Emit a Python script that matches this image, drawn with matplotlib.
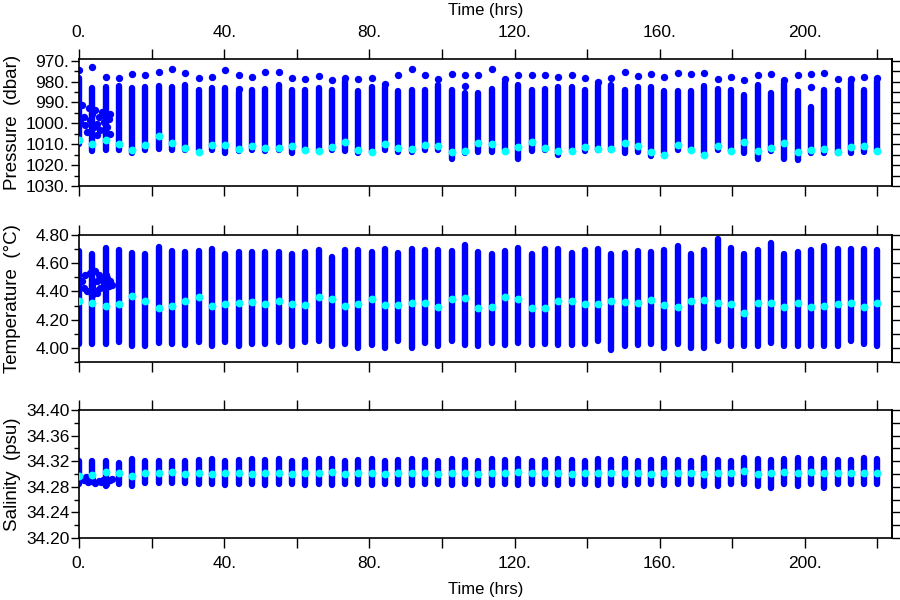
import matplotlib
matplotlib.use("Agg")
import matplotlib.pyplot as plt
from matplotlib.ticker import MultipleLocator, FixedLocator

plt.rcParams['font.family'] = ['Liberation Sans', 'DejaVu Sans']

# profile times (hrs)
times = [0.0, 3.7, 7.3, 11.0, 14.7, 18.3, 22.0, 25.7, 29.3, 33.0, 36.7, 40.3, 44.0, 47.7, 51.3,
         55.0, 58.7, 62.3, 66.0, 69.7, 73.3, 77.0, 80.7, 84.3, 88.0, 91.7, 95.3, 99.0, 102.7, 106.3,
         110.0, 113.7, 117.3, 121.0, 124.7, 128.3, 132.0, 135.7, 139.3, 143.0, 146.7, 150.3, 154.0,
         157.7, 161.3, 165.0, 168.7, 172.3, 176.0, 179.7, 183.3, 187.0, 190.7, 194.3, 198.0, 201.7,
         205.3, 209.0, 212.7, 216.3, 220.0]

# pressure (dbar)
p_dot = [974.7, 973.2, 977.7, 978.1, 976.5, 977.1, 975.5, 973.9, 976.0, 978.1, 977.6, 974.7, 977.1,
         977.7, 975.2, 975.2, 978.4, 978.7, 977.2, 979.2, 978.4, 978.7, 978.4, 981.3, 976.8, 973.9,
         976.8, 978.7, 976.3, 977.1, 977.1, 973.9, 978.7, 976.8, 977.1, 977.1, 977.6, 977.1, 978.1,
         980.0, 978.1, 975.2, 977.3, 976.5, 977.6, 976.0, 976.5, 976.0, 978.7, 977.7, 979.2, 977.1,
         976.5, 979.2, 977.1, 976.5, 976.0, 978.7, 978.7, 977.6, 978.4]
p_top = [978.3, 983.1, 982.8, 982.3, 983.1, 982.8, 982.3, 982.8, 981.5, 983.9, 983.1, 983.1, 985.0,
         983.9, 983.4, 981.5, 983.9, 983.9, 983.1, 983.9, 979.9, 984.7, 982.8, 982.8, 984.7, 983.9,
         983.9, 981.5, 983.9, 985.5, 985.5, 983.4, 980.2, 981.5, 983.9, 983.4, 982.8, 982.8, 983.9,
         981.5, 981.5, 983.9, 982.8, 982.8, 984.7, 984.4, 984.4, 982.3, 983.4, 983.9, 986.3, 981.5,
         985.5, 980.7, 984.7, 992.0, 983.9, 983.9, 980.2, 983.9, 979.9]
p_bot = [1010.0, 1013.2, 1012.6, 1012.9, 1014.2, 1012.7, 1012.2, 1012.6, 1012.9, 1012.9, 1012.6,
         1014.2, 1013.4, 1012.9, 1013.4, 1012.6, 1014.2, 1012.6, 1013.4, 1012.6, 1013.4, 1014.2,
         1013.9, 1012.9, 1013.9, 1013.9, 1012.9, 1012.6, 1017.1, 1014.2, 1013.9, 1013.9, 1012.9,
         1017.1, 1013.4, 1012.6, 1015.0, 1012.6, 1013.4, 1012.6, 1012.6, 1014.2, 1013.9, 1015.5,
         1014.2, 1012.6, 1012.6, 1014.2, 1012.9, 1013.4, 1014.2, 1017.1, 1013.4, 1017.1, 1017.7,
         1014.2, 1014.2, 1014.2, 1014.2, 1013.9, 1013.4]
p_mid = [1008.2, 1009.8, 1007.9, 1009.8, 1013.0, 1010.6, 1006.1, 1009.5, 1011.9, 1013.5, 1010.6,
         1010.6, 1012.3, 1011.0, 1011.9, 1011.9, 1011.0, 1012.6, 1013.1, 1011.5, 1008.7, 1012.6,
         1013.5, 1010.0, 1011.9, 1012.3, 1010.3, 1011.0, 1013.5, 1013.1, 1009.4, 1010.0, 1013.1,
         1011.5, 1009.0, 1011.9, 1013.1, 1013.1, 1011.5, 1012.3, 1012.3, 1009.5, 1011.0, 1013.5,
         1015.0, 1010.3, 1012.6, 1015.2, 1011.0, 1013.1, 1008.7, 1013.4, 1011.9, 1009.4, 1013.5,
         1012.6, 1012.3, 1013.9, 1011.5, 1011.0, 1013.4]
p_extra_t = [44.0, 106.3, 201.7]
p_extra = [983.5, 982.0, 982.4]

# temperature (degC)
t_top = [4.686, 4.662, 4.710, 4.690, 4.671, 4.667, 4.714, 4.686, 4.679, 4.686, 4.702, 4.662, 4.679,
         4.679, 4.679, 4.679, 4.667, 4.679, 4.695, 4.643, 4.690, 4.690, 4.679, 4.702, 4.671, 4.702,
         4.690, 4.690, 4.686, 4.726, 4.679, 4.667, 4.686, 4.710, 4.667, 4.702, 4.702, 4.671, 4.695,
         4.702, 4.667, 4.671, 4.686, 4.679, 4.690, 4.719, 4.667, 4.695, 4.774, 4.710, 4.662, 4.695,
         4.743, 4.662, 4.679, 4.690, 4.719, 4.702, 4.702, 4.702, 4.690]
t_bot = [4.026, 4.026, 4.026, 4.043, 4.010, 4.010, 4.038, 4.026, 4.019, 4.043, 4.014, 4.043, 4.010,
         4.026, 4.026, 4.043, 4.010, 4.043, 4.050, 4.014, 4.026, 4.002, 4.019, 4.002, 4.050, 4.002,
         4.033, 4.010, 4.050, 4.019, 4.014, 4.038, 4.019, 4.038, 4.019, 4.026, 4.019, 4.019, 4.026,
         4.050, 3.986, 4.014, 4.019, 4.026, 4.002, 4.026, 4.002, 4.002, 4.050, 4.014, 4.014, 4.014,
         4.038, 4.010, 4.014, 4.014, 4.014, 4.014, 4.050, 4.026, 4.014]
t_mid = [4.333, 4.317, 4.300, 4.310, 4.364, 4.329, 4.286, 4.300, 4.333, 4.357, 4.298, 4.310, 4.321,
         4.324, 4.312, 4.329, 4.314, 4.305, 4.360, 4.348, 4.300, 4.310, 4.345, 4.305, 4.305, 4.317,
         4.321, 4.288, 4.348, 4.352, 4.286, 4.288, 4.357, 4.348, 4.286, 4.281, 4.329, 4.333, 4.310,
         4.312, 4.333, 4.326, 4.317, 4.338, 4.305, 4.293, 4.329, 4.340, 4.321, 4.310, 4.248, 4.321,
         4.317, 4.290, 4.319, 4.293, 4.298, 4.312, 4.317, 4.293, 4.321]

# salinity (psu)
s_top = [34.320, 34.320, 34.321, 34.317, 34.323, 34.321, 34.321, 34.320, 34.321, 34.322, 34.323,
         34.321, 34.322, 34.324, 34.322, 34.323, 34.321, 34.322, 34.323, 34.324, 34.321, 34.322,
         34.323, 34.321, 34.322, 34.324, 34.322, 34.321, 34.323, 34.322, 34.321, 34.323, 34.322,
         34.324, 34.321, 34.322, 34.323, 34.322, 34.321, 34.324, 34.322, 34.323, 34.321, 34.322,
         34.324, 34.322, 34.321, 34.325, 34.322, 34.320, 34.325, 34.324, 34.322, 34.324, 34.325,
         34.324, 34.323, 34.322, 34.322, 34.325, 34.324]
s_bot = [34.285, 34.288, 34.282, 34.285, 34.282, 34.286, 34.286, 34.286, 34.286, 34.284, 34.285,
         34.283, 34.285, 34.284, 34.283, 34.284, 34.285, 34.283, 34.284, 34.283, 34.285, 34.284,
         34.283, 34.285, 34.284, 34.283, 34.284, 34.285, 34.283, 34.284, 34.285, 34.283, 34.284,
         34.283, 34.285, 34.284, 34.283, 34.284, 34.285, 34.283, 34.284, 34.283, 34.285, 34.284,
         34.283, 34.285, 34.284, 34.282, 34.282, 34.285, 34.285, 34.282, 34.278, 34.284, 34.282,
         34.285, 34.278, 34.284, 34.284, 34.284, 34.284]
s_mid = [34.297, 34.299, 34.303, 34.301, 34.297, 34.301, 34.302, 34.303, 34.300, 34.301, 34.300,
         34.302, 34.301, 34.300, 34.302, 34.301, 34.300, 34.302, 34.301, 34.303, 34.300, 34.301,
         34.302, 34.300, 34.301, 34.302, 34.301, 34.300, 34.302, 34.301, 34.300, 34.302, 34.301,
         34.303, 34.302, 34.301, 34.302, 34.300, 34.301, 34.302, 34.301, 34.302, 34.301, 34.300,
         34.302, 34.301, 34.302, 34.300, 34.302, 34.301, 34.305, 34.300, 34.302, 34.303, 34.301,
         34.303, 34.302, 34.302, 34.302, 34.302, 34.302]

# scattered samples during the first hours
cl_t = [0.8, 1.3, 1.7, 2.7, 3.1, 3.6, 4.0, 4.5, 5.0, 5.4, 5.9, 6.3, 6.8, 7.3, 7.7, 8.2, 8.6, 8.6,
        2.2, 0.4, 5.0, 7.3]
cl_p = [991.3, 996.9, 1001.0, 992.9, 998.5, 995.3, 1001.8, 993.7, 1000.2, 996.9, 1003.4, 994.5,
        999.4, 996.1, 1001.8, 997.7, 995.3, 1005.0, 1004.2, 999.4, 1005.8, 1005.0]
clT_t = [0.8, 1.7, 3.1, 4.5, 5.4, 6.3, 7.7, 8.6, 9.1, 8.2, 6.8, 5.9, 5.0, 3.6, 2.2, 1.3, 3.6, 5.0,
         7.3, 4.0]
clT = [4.471, 4.519, 4.531, 4.543, 4.519, 4.483, 4.495, 4.471, 4.448, 4.436, 4.448, 4.424, 4.388,
       4.376, 4.400, 4.424, 4.448, 4.471, 4.519, 4.412]
clS_t = [0.5, 1.5, 2.5, 3.5, 4.5, 5.5, 6.5, 7.5, 8.5, 9.2, 2.0, 6.0]
clS = [34.293, 34.290, 34.288, 34.292, 34.286, 34.289, 34.291, 34.284, 34.290, 34.292, 34.295, 34.287]

BLUE = '#0000ff'
CYAN = '#00ffff'
LW = 4.6
DOT = 28
CDOT = 32
FS = 12.5

fig = plt.figure(figsize=(9, 6), dpi=100)
ax1 = fig.add_axes([0.0878, 0.69, 0.9033, 0.2117])
ax2 = fig.add_axes([0.0878, 0.3967, 0.9033, 0.2117])
ax3 = fig.add_axes([0.0878, 0.1033, 0.9033, 0.2133])

ax1.vlines(times, p_top, p_bot, color=BLUE, lw=LW, capstyle='round', zorder=2)
ax1.scatter(times, p_dot, s=DOT, color=BLUE, zorder=2, linewidths=0)
ax1.scatter(p_extra_t, p_extra, s=DOT, color=BLUE, zorder=2, linewidths=0)
ax1.scatter(cl_t, cl_p, s=DOT, color=BLUE, zorder=2, linewidths=0)
ax1.scatter(times, p_mid, s=CDOT, color=CYAN, zorder=3, linewidths=0)

ax2.vlines(times, t_bot, t_top, color=BLUE, lw=LW, capstyle='round', zorder=2)
ax2.scatter(clT_t, clT, s=DOT, color=BLUE, zorder=2, linewidths=0)
ax2.scatter(times, t_mid, s=CDOT, color=CYAN, zorder=3, linewidths=0)

ax3.vlines(times, s_bot, s_top, color=BLUE, lw=LW, capstyle='round', zorder=2)
ax3.scatter(clS_t, clS, s=DOT, color=BLUE, zorder=2, linewidths=0)
ax3.scatter(times, s_mid, s=CDOT, color=CYAN, zorder=3, linewidths=0)

ax1.set_ylim(1030, 969.2)
ax2.set_ylim(3.90, 4.80)
ax3.set_ylim(34.20, 34.40)

ylab = ['Pressure  (dbar)', 'Temperature  (°C)', 'Salinity  (psu)']
ymaj = [[970, 980, 990, 1000, 1010, 1020, 1030],
        [4.0, 4.2, 4.4, 4.6, 4.8],
        [34.20, 34.24, 34.28, 34.32, 34.36, 34.40]]
ymin = [5, 0.1, 0.02]
yfmt = ['{:.0f}.', '{:.2f}', '{:.2f}']

for k, ax in enumerate([ax1, ax2, ax3]):
    ax.set_xlim(0, 224)
    ax.xaxis.set_major_locator(MultipleLocator(20))
    ax.set_xticklabels([])
    ax.tick_params(axis='x', which='major', direction='out', length=7, width=1,
                   top=True, bottom=True, labeltop=False, labelbottom=False)
    ax.yaxis.set_major_locator(FixedLocator(ymaj[k]))
    ax.yaxis.set_minor_locator(MultipleLocator(ymin[k]))
    ax.set_yticklabels([yfmt[k].format(v) for v in ymaj[k]], fontsize=FS)
    ax.tick_params(axis='y', which='major', direction='out', length=6, width=1, pad=1)
    ax.tick_params(axis='y', which='minor', direction='out', length=3.5, width=1)
    ax.set_ylabel(ylab[k], fontsize=13.5)
    ax.yaxis.set_label_coords(-0.071, 0.5)
    for sp in ax.spines.values():
        sp.set_linewidth(1.2)
    sec = ax.secondary_yaxis('right')
    sec.yaxis.set_major_locator(MultipleLocator(ymin[k]))
    sec.tick_params(direction='out', length=6, width=1, labelright=False)
    sec.spines['right'].set_linewidth(1.2)

xt = [0, 40, 80, 120, 160, 200]
xtl = ['{}.'.format(v) for v in xt]

top = ax1.secondary_xaxis('top')
top.set_xticks(xt)
top.set_xticklabels(xtl, fontsize=FS)
top.tick_params(length=0, pad=14)
top.set_xlabel('Time (hrs)', fontsize=12, labelpad=7)
top.spines['top'].set_visible(False)

bot = ax3.secondary_xaxis('bottom')
bot.set_xticks(xt)
bot.set_xticklabels(xtl, fontsize=FS)
bot.tick_params(length=0, pad=13)
bot.set_xlabel('Time (hrs)', fontsize=12, labelpad=8)
bot.spines['bottom'].set_visible(False)

fig.savefig('out.png', dpi=100)
